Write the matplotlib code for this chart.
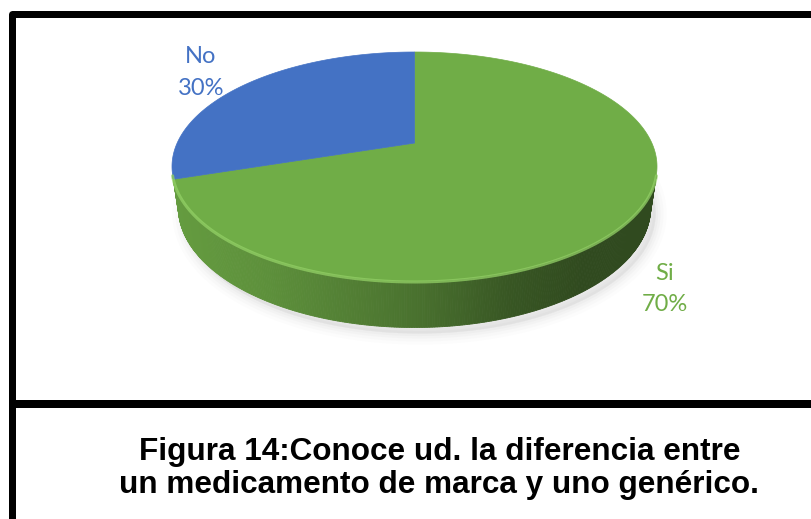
import numpy as np
import matplotlib
matplotlib.use('Agg')
import matplotlib.pyplot as plt
from matplotlib.patches import Polygon
from matplotlib.colors import to_rgb

# ---------------- data ----------------
categories = ['Si', 'No']
values = [70, 30]
slice_colors = ['#70AD47', '#4472C4']
caption_lines = ['Figura 14:Conoce ud. la diferencia entre',
                 'un medicamento de marca y uno genérico.']

# ---------------- figure ----------------
W, H = 811, 519
fig = plt.figure(figsize=(W / 100, H / 100), dpi=100)
ax = fig.add_axes([0, 0, 1, 1])
ax.set_xlim(0, W)
ax.set_ylim(H, 0)
ax.axis('off')

# ---------------- 3D perspective pie geometry ----------------
phi = np.radians(30)
D = 4.23
h = 0.22


def proj(t, z=0.0):
    u = np.cos(t)
    v = np.sin(t)
    yc = v * np.sin(phi) + z * np.cos(phi)
    dep = v * np.cos(phi) - z * np.sin(phi) + D
    return u / dep, yc / dep


tt = np.linspace(0, 2 * np.pi, 3000)
px, py = proj(tt)
left, right, top, bottom = 172, 657, 52, 281
kx = (right - left) / (px.max() - px.min())
x0 = left - kx * px.min()
ky = (bottom - top) / (py.max() - py.min())
y0 = top + ky * py.max()


def to_pix(t, z=0.0):
    sx, sy = proj(t, z)
    return x0 + kx * sx, y0 - ky * sy


# slice angles: start at 12 o'clock, clockwise
total = float(sum(values))
starts, ends = [], []
a = np.pi / 2
for v in values:
    span = 2 * np.pi * v / total
    starts.append(a)
    ends.append(a - span)
    a -= span

# ---------------- shadow ----------------
tb = np.linspace(0, 2 * np.pi, 400)
bx, by = to_pix(tb, -h)
for lw, al in [(22, 0.04), (16, 0.05), (10, 0.07), (5, 0.09)]:
    ax.add_patch(Polygon(np.column_stack([bx + 5, by + 6]), closed=True,
                         facecolor='#bdbdbd', edgecolor='#bdbdbd',
                         lw=lw * 0.72, alpha=al, zorder=1, joinstyle='round'))

# ---------------- side ----------------
lim = np.arcsin(1.0 / (D * np.cos(phi)))
vis_lo = np.pi + lim
vis_hi = 2 * np.pi - lim

shade_s = [0.0, 0.2, 0.5, 0.7, 0.85, 1.0]
shade_f = [0.90, 0.83, 0.66, 0.50, 0.43, 0.43]


def norm_range(s, e):
    segs = []
    for k in range(-2, 3):
        a0 = max(e + 2 * np.pi * k, vis_lo)
        a1 = min(s + 2 * np.pi * k, vis_hi)
        if a1 > a0:
            segs.append((a0, a1))
    return segs


for idx, (s, e, col) in enumerate(zip(starts, ends, slice_colors)):
    base = np.array(to_rgb(col))
    segs = norm_range(s, e)
    # the narrow sliver of the small slice at the silhouette is hidden
    segs = [(a0, a1) for a0, a1 in segs if (a1 - a0) > np.radians(8)]
    for a0, a1 in segs:
        if idx == 0:
            a0 = min(a0, vis_lo)
        n = max(int((a1 - a0) / np.radians(0.5)), 2)
        ts = np.linspace(a0, a1, n + 1)
        for i in range(n):
            t1, t2 = ts[i], ts[i + 1]
            xa, ya = to_pix(np.array([t1, t2]), 0.0)
            xb, yb = to_pix(np.array([t2, t1]), -h)
            xm = (xa.mean() - left) / (right - left)
            f = np.interp(xm, shade_s, shade_f)
            c = np.clip(base * f, 0, 1)
            ax.add_patch(Polygon(np.column_stack([np.r_[xa, xb], np.r_[ya, yb]]),
                                 closed=True, facecolor=c, edgecolor=c,
                                 lw=0.6, zorder=2))

# rim highlight on the front edge
tr = np.linspace(vis_lo, vis_hi, 300)
rx, ry = to_pix(tr, 0.0)
ax.plot(rx, ry + 1.0, color='#93d166', lw=2.2, alpha=0.75, zorder=4,
        solid_capstyle='round')

# ---------------- top face ----------------
cx, cy = x0, y0
for s, e, col in zip(starts, ends, slice_colors):
    ta = np.linspace(s, e, 300)
    ax_, ay_ = to_pix(ta, 0.0)
    poly = np.column_stack([np.r_[cx, ax_], np.r_[cy, ay_]])
    ax.add_patch(Polygon(poly, closed=True, facecolor=col, edgecolor=col,
                         lw=0.5, zorder=3))

# ---------------- labels ----------------
lab_font = 'Lato'
label_pos = {'No': (201, 63, 95), 'Si': (665, 280, 311)}
for cat, val, col in zip(categories, values, slice_colors):
    lx, y1, y2 = label_pos[cat]
    ax.text(lx, y1, cat, color=col, fontsize=17, family=lab_font,
            ha='center', va='baseline', zorder=6)
    ax.text(lx, y2, f'{val}%', color=col, fontsize=17, family=lab_font,
            ha='center', va='baseline', zorder=6)

# ---------------- frame ----------------
ax.plot([12, 12, 830], [540, 13.5, 13.5], color='black', lw=7 * 0.72,
        solid_joinstyle='round', solid_capstyle='butt', zorder=7)
ax.plot([12, 830], [404, 404], color='black', lw=8 * 0.72,
        solid_capstyle='butt', zorder=7)

# ---------------- caption ----------------
ax.text(440, 460, caption_lines[0], fontsize=22.7, fontweight='bold',
        family='Liberation Sans', ha='center', va='baseline', color='black')
ax.text(439, 493, caption_lines[1], fontsize=22.7, fontweight='bold',
        family='Liberation Sans', ha='center', va='baseline', color='black')

fig.savefig('out.png', dpi=100)
